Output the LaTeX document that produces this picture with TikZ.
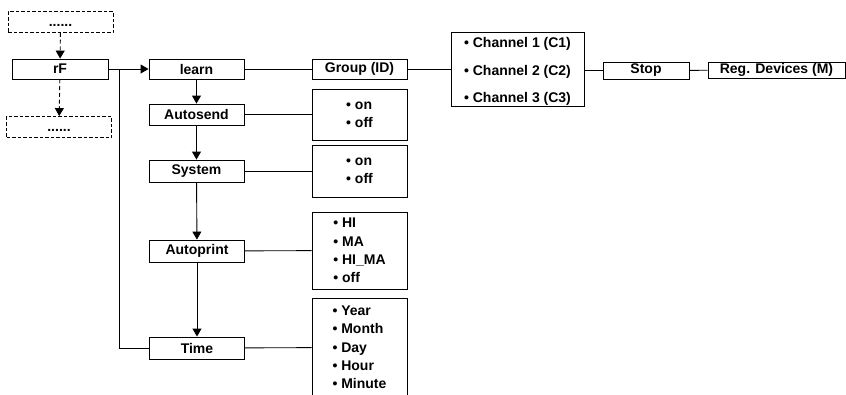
\documentclass[tikz,border=0pt]{standalone}
\usepackage{fontspec}
\setmainfont{Liberation Sans}
\usetikzlibrary{arrows.meta}

\begin{document}
\begin{tikzpicture}[x=1pt, y=-1pt,
  every node/.style={font=\bfseries\fontsize{14}{18.3}\selectfont, inner sep=0pt},
  blk/.style={draw, line width=0.9pt, minimum width=95pt, minimum height=21pt},
  dots/.style={blk, dash pattern=on 3.5pt off 2pt, minimum width=105pt, text height=11pt, text depth=2pt},
  lst/.style={draw, line width=0.9pt, minimum width=95pt, align=left},
  arr/.style={-{Triangle[length=8pt, width=9pt]}},
  line width=0.9pt]
\useasboundingbox (0,0) rectangle (846,394);

% Menu above and below rF
\node[dots] (dotsA) at (60.5,22) {......};
\node[blk, minimum width=96pt, minimum height=20pt] (rF) at (60,69) {rF};
\node[dots] (dotsB) at (59,127) {......};
\draw[arr, dash pattern=on 4pt off 2.7pt] (dotsA) -- (rF);
\draw[arr, dash pattern=on 4pt off 2.7pt] (rF) -- (dotsB);

% Main column
\node[blk, minimum height=20pt] (learn) at (196.5,69) {learn};
\node[blk] (autosend) at (196.5,114.5) {Autosend};
\node[blk, minimum height=22pt] (system) at (196.5,171) {System};
\node[blk, minimum height=22pt] (autoprint) at (197,251) {Autoprint};
\node[blk, minimum height=22pt] (time) at (197,348) {Time};
\coordinate (junc) at (119,69);
\draw[arr] (rF) -- (learn);
\draw (time.west) -| (junc);
\draw[arr] (learn) -- (autosend);
\draw[arr] (autosend) -- (system);
\draw[arr] (system) -- (autoprint);
\draw[arr] (autoprint) -- (time);

% learn chain
\node[blk, minimum height=20pt] (group) at (359.5,69) {Group (ID)};
\node[lst, minimum width=133pt, minimum height=74pt] (chan) at (517.5,69)
  {\\[-3pt]\textbullet\ Channel 1 (C1)\\[9.2pt]\textbullet\ Channel 2 (C2)\\[9.2pt]\textbullet\ Channel 3 (C3)};
\node[blk, minimum width=86pt, minimum height=17pt] (stop) at (646,70.5) {Stop};
\node[blk, minimum width=137pt, minimum height=16pt] (reg) at (776.5,70) {Reg. Devices (M)};
\draw (learn) -- (group);
\draw (group) -- (group -| chan.west);
\draw (chan.east |- stop.west) -- (stop.west);
\draw (stop) -- (reg);

% Option lists
\node[lst, minimum height=51pt] (onoffA) at (359.5,114.5) {\textbullet\ on\\\textbullet\ off};
\node[lst, minimum height=52pt] (onoffB) at (359.5,171) {\textbullet\ on\\\textbullet\ off};
\node[lst, minimum height=77pt] (modes) at (359.5,250.5)
  {\textbullet\ HI\\\textbullet\ MA\\\textbullet\ HI\_MA\\\textbullet\ off};
\node[lst, minimum height=99pt] (clock) at (359.5,347.5)
  {\textbullet\ Year\\\textbullet\ Month\\\textbullet\ Day\\\textbullet\ Hour\\\textbullet\ Minute};
\draw (autosend) -- (onoffA);
\draw (system) -- (onoffB);
\draw (autoprint) -- (modes);
\draw (time) -- (clock);

\end{tikzpicture}
\end{document}
